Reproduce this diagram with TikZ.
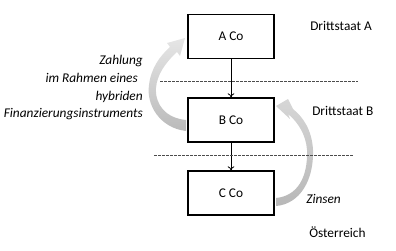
\documentclass[tikz,border=0pt]{standalone}
\usepackage{fontspec}
\setmainfont{Carlito}
\usetikzlibrary{arrows.meta}
\begin{document}
\begin{tikzpicture}[x=0.75pt,y=-0.75pt,
  every node/.style={font=\fontsize{10}{12}\selectfont},
  box/.style={draw=black, line width=1pt, minimum width=64.5pt, minimum height=33pt, inner sep=0pt},
  conn/.style={draw=black, line width=0.6pt, -{To[length=3pt,width=5pt]}},
  sep/.style={draw=black!70, line width=0.7pt, dash pattern=on 2pt off 1pt},
  lbl/.style={inner sep=0pt, anchor=base west},
  ilbl/.style={inner sep=0pt, anchor=base east, font=\fontsize{10}{12}\selectfont\itshape}]
\useasboundingbox (0,0) rectangle (396,250);
% curved arrows
\shade[top color=black!10, middle color=black!15, bottom color=black!27]
  (186,131) .. controls (160,128) and (146,105) .. (149,85)
  .. controls (151,68) and (160,56) .. (170,47)
  -- (167,43) -- (185,38) -- (180,56) -- (177,52)
  .. controls (165,63) and (157,75) .. (156,88)
  .. controls (155,105) and (166,118) .. (186,120) -- cycle;
\shade[top color=black!16, bottom color=black!28]
  (276,206) .. controls (300,204) and (314,180) .. (313,150)
  .. controls (312,130) and (303,117) .. (293,109)
  -- (288,99) -- (276,106) -- (290,119) -- (288,114)
  .. controls (298,122) and (306,135) .. (307,150)
  .. controls (308,178) and (297,196) .. (276,198) -- cycle;
% boxes
\node[box] (A) at (231,36.5) {A Co};
\node[box] (B) at (231,120) {B Co};
\node[box] (C) at (231,193) {C Co};
\draw[conn] (A) -- (B);
\draw[conn] (B) -- (C);
% separators
\coordinate (d1a) at (160,81); \coordinate (d1b) at (358,81);
\coordinate (d2a) at (154,155); \coordinate (d2b) at (353,155);
\draw[sep] (d1a) -- (d1b);
\draw[sep] (d2a) -- (d2b);
% labels
\node[lbl] (dA) at (310,30.5) {Drittstaat A};
\node[lbl] (dB) at (312,115) {Drittstaat B};
\node[lbl, font=\fontsize{10}{12}\selectfont\itshape] (zins) at (306,203) {Zinsen};
\node[lbl] (at) at (309,237.5) {Österreich};
\node[ilbl] (p1) at (143,64) {Zahlung};
\node[ilbl] (p2) at (138,82) {im Rahmen eines};
\node[ilbl] (p3) at (143,100) {hybriden};
\node[ilbl] (p4) at (143,117) {Finanzierungsinstruments};
\end{tikzpicture}
\end{document}
